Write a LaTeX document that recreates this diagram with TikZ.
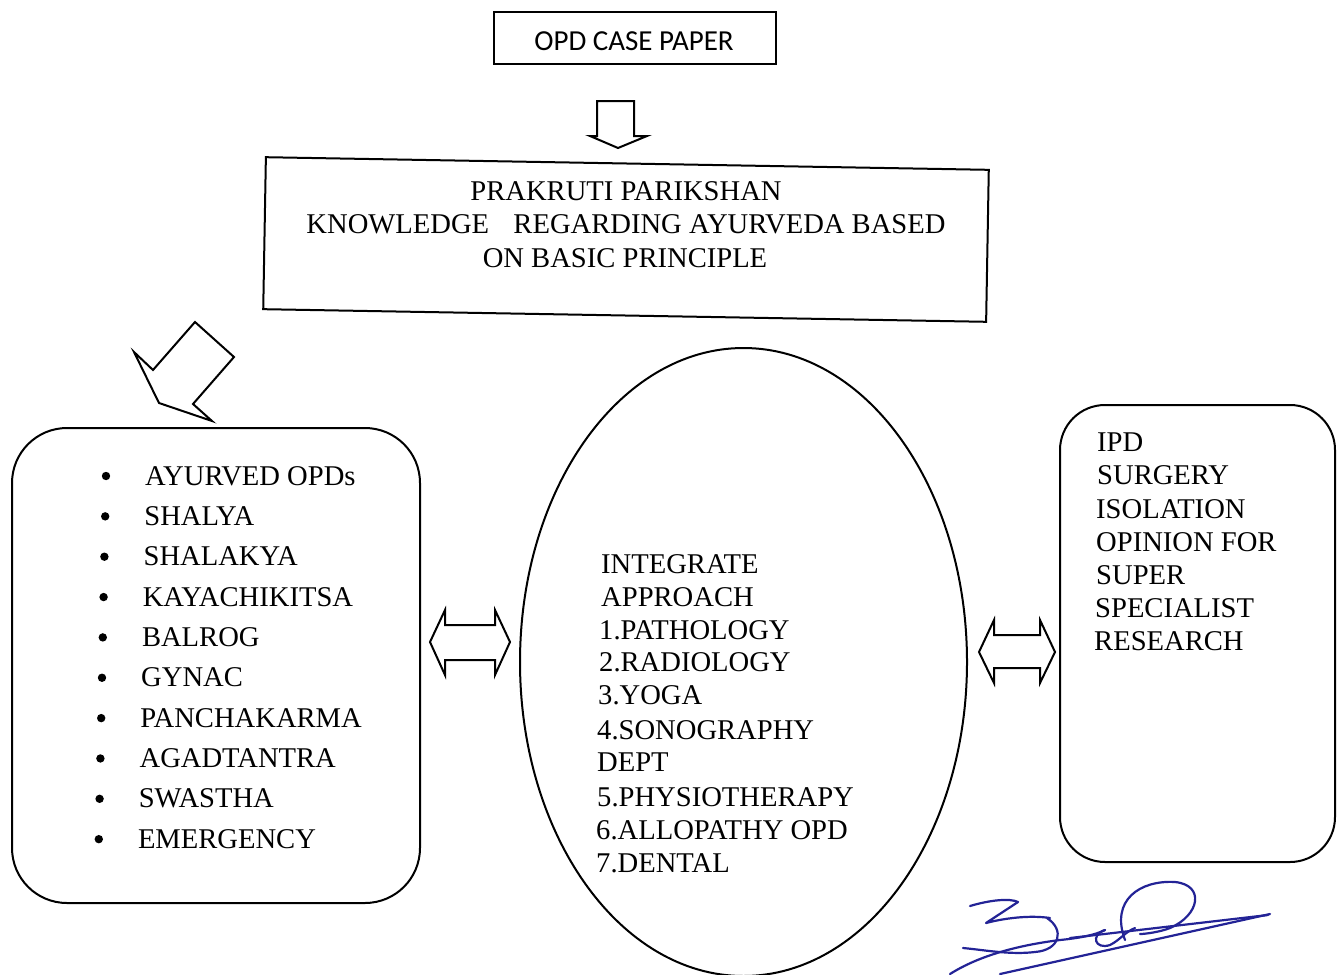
\documentclass[tikz,border=0pt]{standalone}
\usepackage{fontspec}
\setmainfont{Liberation Serif}
\newfontfamily\calib{Carlito}
\usetikzlibrary{shapes.geometric}
\begin{document}
\begin{tikzpicture}[x=1pt,y=-1pt,
  box/.style={draw,line width=2pt,inner sep=0pt},
  blk/.style={draw,line width=2pt,line join=miter},
  txt/.style={font=\fontsize{28.6}{33}\selectfont,inner sep=0pt,anchor=base west},
  sig/.style={draw=sigblue,line width=2.2pt,line cap=round,line join=round}]
\definecolor{sigblue}{RGB}{35,35,150}
\useasboundingbox[fill=white] (0,0) rectangle (1337,974);
% top box
\node[box,minimum width=282,minimum height=51] (case) at (634.5,38) {};
\node[inner sep=0pt,font=\calib\fontsize{29}{33}\selectfont] (caset) at (634,41) {OPD CASE PAPER};
% down arrow
\draw[blk] (597,101) -- (634,101) -- (634,136) -- (647,136) -- (618,148) -- (590,136) -- (597,136) -- cycle;
% prakruti box
\node[box,rotate=-1,minimum width=723,minimum height=152] (prak) at (626,239.5) {};
\node[txt,anchor=base] (p1) at (626,200) {PRAKRUTI PARIKSHAN};
\node[txt,anchor=base] (p2) at (626,233) {KNOWLEDGE\hspace{0.6em} REGARDING AYURVEDA BASED};
\node[txt,anchor=base] (p3) at (625,267) {ON BASIC PRINCIPLE};
% diagonal arrow
\draw[blk] (159,403) -- (134,352) -- (153,370) -- (195,322) -- (234,357) -- (193,404) -- (212,421) -- cycle;
% left rounded box
\node[box,rounded corners=55,minimum width=408,minimum height=475] (opds) at (216,665.5) {};
\foreach \t [count=\i from 0] in {AYURVED OPDs,SHALYA,SHALAKYA,KAYACHIKITSA,BALROG,GYNAC,PANCHAKARMA,AGADTANTRA,SWASTHA,EMERGENCY}{
  \pgfmathsetmacro{\yy}{485+40.35*\i}
  \pgfmathsetmacro{\xx}{145-0.8*\i}
  \node[txt] (l\i) at (\xx,\yy) {\t};
  \fill (\xx-39,\yy-9) circle (4.2);
}
% ellipse
\node[draw,line width=2pt,ellipse,minimum width=447,minimum height=628,inner sep=0pt] (integ) at (743.5,662) {};
\foreach \t/\xx/\yy [count=\i] in {INTEGRATE/601/573,APPROACH/601/606,1.PATHOLOGY/599/639,2.RADIOLOGY/599/671,3.YOGA/598/704,4.SONOGRAPHY/597/739,DEPT/597/771,5.PHYSIOTHERAPY/597/806,6.ALLOPATHY OPD/596/839,7.DENTAL/596/872}{
  \node[txt] (c\i) at (\xx,\yy) {\t};
}
% right rounded box
\node[box,rounded corners=45,minimum width=275,minimum height=457] (ipd) at (1197.5,633.5) {};
\foreach \t/\xx/\yy [count=\i] in {IPD/1097/451,SURGERY/1097/484,ISOLATION/1096/518,OPINION FOR/1096/551,SUPER/1096/584,SPECIALIST/1095/617,RESEARCH/1094/650}{
  \node[txt] (r\i) at (\xx,\yy) {\t};
}
% double arrows
\draw[blk] (430,642) -- (445,610) -- (445,625) -- (495,625) -- (495,610) -- (510,642) -- (495,675) -- (495,660) -- (445,660) -- (445,675) -- cycle;
\draw[blk] (979,652) -- (994,620) -- (994,635) -- (1040,635) -- (1040,620) -- (1055,652) -- (1040,683) -- (1040,668) -- (994,668) -- (994,683) -- cycle;
% signature
\draw[sig] (970,906) .. controls (990,900) and (1010,898) .. (1018,902) -- (986,923) .. controls (1005,918) and (1030,915) .. (1050,918);
\draw[sig] (1047,918) .. controls (1065,930) and (1060,950) .. (1035,952) .. controls (1010,955) and (985,950) .. (963,948);
\draw[sig] (950,974) .. controls (980,955) and (1020,945) .. (1060,940) .. controls (1080,938) and (1095,935) .. (1105,930);
\draw[sig] (1105,930) .. controls (1090,935) and (1095,950) .. (1110,945) .. controls (1120,940) and (1125,932) .. (1135,928);
\draw[sig] (1125,940) .. controls (1110,900) and (1140,880) .. (1175,882) .. controls (1205,885) and (1200,915) .. (1170,928) .. controls (1160,932) and (1145,934) .. (1140,934);
\draw[sig] (1070,938) -- (1268,915);
\draw[sig] (1000,974) -- (1270,914);
\end{tikzpicture}
\end{document}
